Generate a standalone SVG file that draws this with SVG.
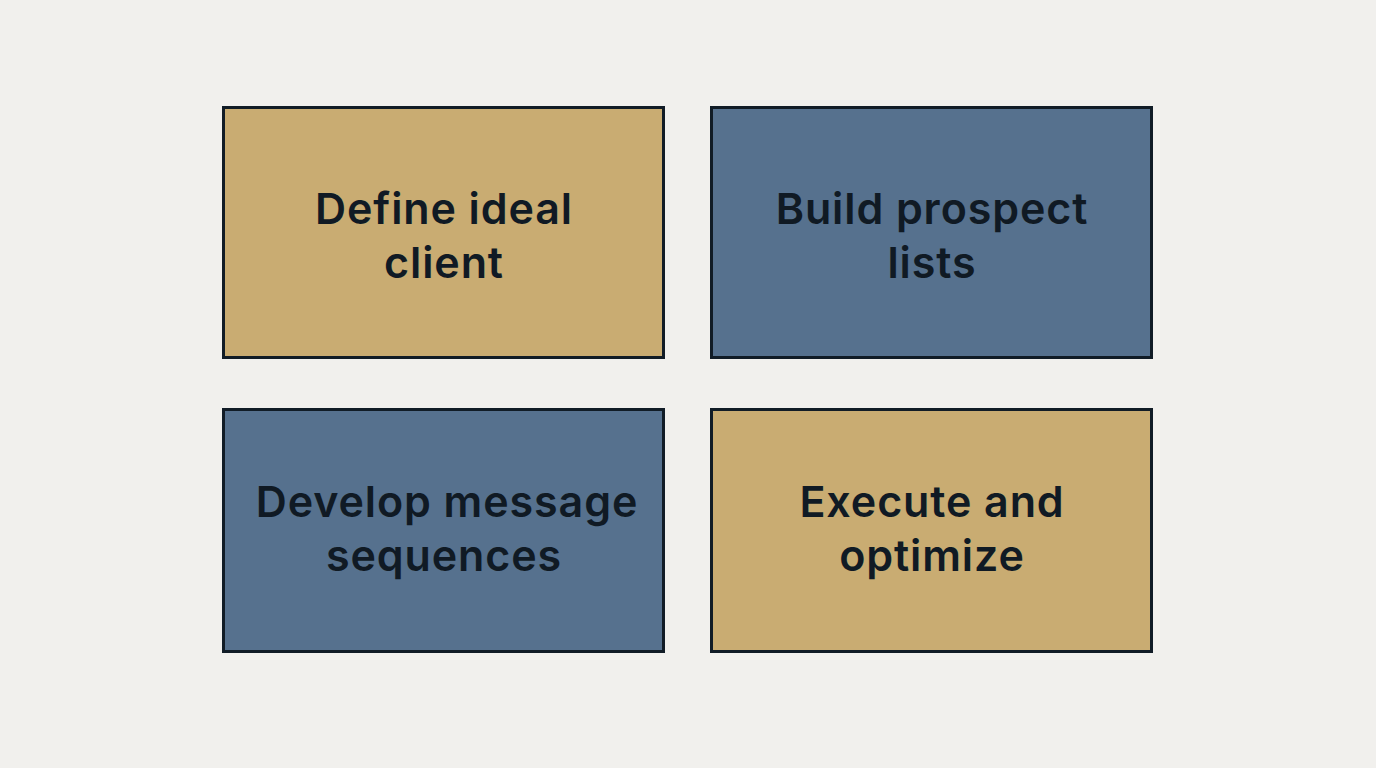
<svg xmlns="http://www.w3.org/2000/svg" width="1376" height="768" viewBox="0 0 1376 768">
<style>
.box{stroke:#111c26;stroke-width:3}
.gold{fill:#c9ac72}
.blue{fill:#56718e}
text{font-family:Inter,"Noto Sans",sans-serif;font-weight:600;font-size:43px;letter-spacing:0.9px;fill:#101a24;text-anchor:middle}
</style>
<rect width="1376" height="768" fill="#f1f0ed"/>
<g id="n1"><rect class="box gold" x="223.5" y="107.5" width="440" height="250"/><text x="444" y="224">Define ideal</text><text x="444" y="278">client</text></g>
<g id="n2"><rect class="box blue" x="711.5" y="107.5" width="440" height="250"/><text x="932" y="224">Build prospect</text><text x="932" y="278">lists</text></g>
<g id="n3"><rect class="box blue" x="223.5" y="409.5" width="440" height="242"/><text x="447" y="517">Develop message</text><text x="444" y="571">sequences</text></g>
<g id="n4"><rect class="box gold" x="711.5" y="409.5" width="440" height="242"/><text x="932" y="517">Execute and</text><text x="932" y="571">optimize</text></g>
<g id="connectors"/>
</svg>
